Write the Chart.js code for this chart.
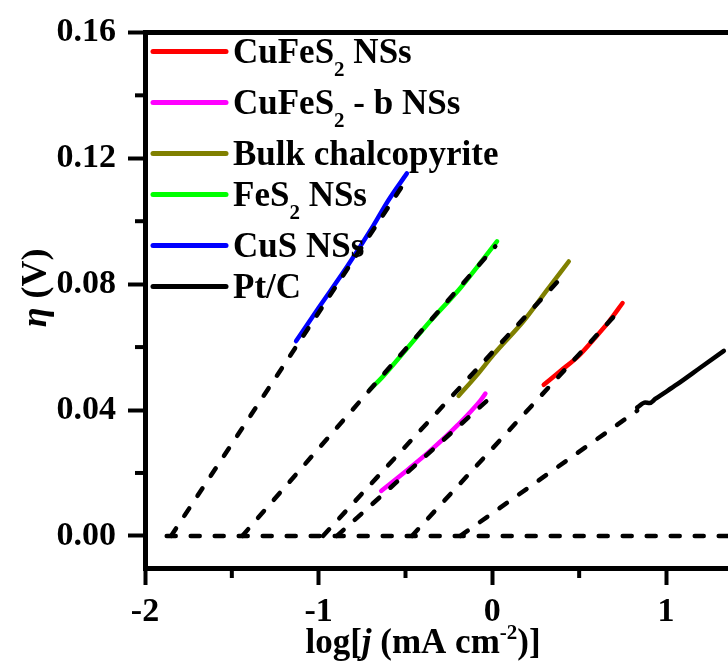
<!DOCTYPE html>
<html>
<head>
<meta charset="utf-8">
<script src="https://cdn.jsdelivr.net/npm/chart.js@4"></script>
<style>
  html, body { margin: 0; padding: 0; background: #fff; }
  #wrap { width: 728px; height: 668px; }
</style>
</head>
<body>
<div id="wrap"><canvas id="tafel" width="728" height="668"></canvas></div>
<script>
// Tafel plots, eta vs log j. Label "_2" means subscript 2.
const seriesNames = ['CuFeS_2 NSs', 'CuFeS_2 - b NSs', 'Bulk chalcopyrite', 'FeS_2 NSs', 'CuS NSs', 'Pt/C'];
const seriesColors = ['#ff0000', '#ff00ff', '#808000', '#00ff00', '#0000ff', '#000000'];

// measured curves
const cufes2X  = [0.296, 0.392, 0.500, 0.584, 0.670, 0.750];
const cufes2Y  = [0.0480, 0.0524, 0.0574, 0.0625, 0.0680, 0.0740];
const cufes2bX = [-0.640, -0.500, -0.357, -0.200, -0.069, -0.040];
const cufes2bY = [0.0143, 0.0205, 0.0271, 0.0352, 0.0430, 0.0452];
const bulkX    = [-0.194, -0.090, 0.008, 0.180, 0.320, 0.440];
const bulkY    = [0.0445, 0.0510, 0.0577, 0.0683, 0.0785, 0.0872];
const fes2X    = [-0.703, -0.636, -0.500, -0.357, -0.184, 0.027];
const fes2Y    = [0.0466, 0.0503, 0.0590, 0.0683, 0.0788, 0.0936];
const cusX     = [-1.130, -1.000, -0.837, -0.686, -0.600, -0.492];
const cusY     = [0.0619, 0.0725, 0.0855, 0.0985, 0.1065, 0.1152];
const ptcX     = [0.834, 0.880, 0.905, 0.940, 1.065, 1.199, 1.333];
const ptcY     = [0.0408, 0.0424, 0.0422, 0.0436, 0.0482, 0.0535, 0.0588];

// linear Tafel fits, from the eta = 0 intercept to the end point
const fitStartX = [-0.463, -0.895, -0.975, -1.440, -1.850, -0.184];
const fitEndX   = [0.738, -0.030, 0.421, 0.017, -0.485, 0.834];
const fitEndY   = [0.0720, 0.0430, 0.0835, 0.0920, 0.1140, 0.0398];

// eta = 0 reference line
const zeroLineX = [-1.875, 1.40];

const xTicks = [-2, -1, 0, 1];
const xMinorTicks = [-1.5, -0.5, 0.5];
const yTicks = [0, 0.04, 0.08, 0.12, 0.16];
const yMinorTicks = [0.02, 0.06, 0.10, 0.14];

const curveXs = [cufes2X, cufes2bX, bulkX, fes2X, cusX, ptcX];
const curveYs = [cufes2Y, cufes2bY, bulkY, fes2Y, cusY, ptcY];

const FONT = "'Liberation Serif', 'Times New Roman', serif";

const datasets = [];
seriesNames.forEach((name, i) => {
  datasets.push({
    label: name,
    data: curveXs[i].map((x, k) => ({ x: x, y: curveYs[i][k] })),
    borderColor: seriesColors[i],
    borderWidth: 4.5,
    borderCapStyle: 'round',
    borderJoinStyle: 'round',
    cubicInterpolationMode: 'monotone',
    pointRadius: 0,
    order: 1
  });
});
seriesNames.forEach((name, i) => {
  datasets.push({
    label: name + ' fit',
    data: [{ x: fitStartX[i], y: 0 }, { x: fitEndX[i], y: fitEndY[i] }],
    borderColor: '#000',
    borderWidth: 4.5,
    borderDash: [9, 15],
    borderCapStyle: 'round',
    pointRadius: 0,
    order: 0
  });
});
datasets.push({
  label: 'zero',
  data: zeroLineX.map(x => ({ x: x, y: 0 })),
  borderColor: '#000',
  borderWidth: 4.5,
  borderDash: [9, 15],
  borderCapStyle: 'round',
  pointRadius: 0,
  order: 2
});

// split "CuFeS_2 NSs" into normal / subscript parts
function parseLabel(s) {
  const parts = [];
  s.split(/(_\d)/).forEach(p => {
    if (!p) return;
    if (p[0] === '_') parts.push({ text: p.slice(1), kind: 'sub' });
    else parts.push({ text: p, kind: 'normal' });
  });
  return parts;
}

function fontFor(kind, size) {
  if (kind === 'sub' || kind === 'sup') return 'bold ' + Math.round(size * 0.6) + 'px ' + FONT;
  if (kind === 'italic') return 'italic bold ' + size + 'px ' + FONT;
  return 'bold ' + size + 'px ' + FONT;
}

function richWidth(ctx, parts, size) {
  let w = 0;
  parts.forEach(p => { ctx.font = fontFor(p.kind, size); w += ctx.measureText(p.text).width; });
  return w;
}

function drawRich(ctx, parts, x, y, size) {
  parts.forEach(p => {
    ctx.font = fontFor(p.kind, size);
    let dy = 0;
    if (p.kind === 'sub') dy = 13;
    if (p.kind === 'sup') dy = -14;
    ctx.fillText(p.text, x, y + dy);
    x += ctx.measureText(p.text).width;
  });
}

const decorPlugin = {
  id: 'decor',
  afterDraw(chart) {
    const { ctx, chartArea, scales } = chart;
    const xs = scales.x, ys = scales.y;
    ctx.save();
    ctx.strokeStyle = '#000';
    ctx.fillStyle = '#000';
    ctx.lineWidth = 4;

    // minor ticks
    xMinorTicks.forEach(v => {
      const px = xs.getPixelForValue(v);
      ctx.beginPath();
      ctx.moveTo(px, chartArea.bottom);
      ctx.lineTo(px, chartArea.bottom + 10);
      ctx.stroke();
    });
    yMinorTicks.forEach(v => {
      const py = ys.getPixelForValue(v);
      ctx.beginPath();
      ctx.moveTo(chartArea.left - 10, py);
      ctx.lineTo(chartArea.left, py);
      ctx.stroke();
    });

    // legend
    ctx.textAlign = 'left';
    ctx.textBaseline = 'alphabetic';
    let rowY = chartArea.top + 19;
    seriesNames.forEach((name, i) => {
      const parts = parseLabel(name);
      ctx.strokeStyle = seriesColors[i];
      ctx.lineWidth = 5;
      ctx.lineCap = 'round';
      ctx.beginPath();
      ctx.moveTo(chartArea.left + 8, rowY);
      ctx.lineTo(chartArea.left + 81, rowY);
      ctx.stroke();
      drawRich(ctx, parts, chartArea.left + 88, rowY + 12, 35);
      rowY += parts.some(p => p.kind === 'sub') ? 51 : 41;
    });

    // x axis title
    const xTitle = [
      { text: 'log[', kind: 'normal' },
      { text: 'j', kind: 'italic' },
      { text: ' (mA cm', kind: 'normal' },
      { text: '-2', kind: 'sup' },
      { text: ')]', kind: 'normal' }
    ];
    const xw = richWidth(ctx, xTitle, 35);
    drawRich(ctx, xTitle, 423 - xw / 2, 653, 35);

    // y axis title
    const yTitle = [
      { text: '\u03b7', kind: 'italic' },
      { text: ' (V)', kind: 'normal' }
    ];
    ctx.translate(46, 288);
    ctx.rotate(-Math.PI / 2);
    const yw = richWidth(ctx, yTitle, 36);
    drawRich(ctx, yTitle, -yw / 2, 0, 36);
    ctx.restore();
  }
};

new Chart(document.getElementById('tafel'), {
  type: 'line',
  data: { datasets: datasets },
  options: {
    responsive: false,
    animation: false,
    devicePixelRatio: 1,
    layout: { padding: { left: 0, right: 0, top: 0, bottom: 0 } },
    plugins: {
      legend: { display: false },
      tooltip: { enabled: false }
    },
    scales: {
      x: {
        type: 'linear',
        position: 'bottom',
        min: -2,
        max: 1.357,
        afterBuildTicks: s => { s.ticks = xTicks.map(v => ({ value: v })); },
        afterFit: s => { s.height = 100; },
        ticks: {
          color: '#000',
          padding: 7,
          maxRotation: 0,
          font: { family: FONT, size: 34, weight: 'bold' },
          callback: v => String(v)
        },
        grid: { drawOnChartArea: false, drawTicks: true, tickLength: 17, tickWidth: 4, tickColor: '#000' },
        border: { display: true, color: '#000', width: 5 }
      },
      x2: {
        type: 'linear',
        position: 'top',
        min: -2,
        max: 1.357,
        afterFit: s => { s.height = 29; },
        ticks: { display: false },
        grid: { drawOnChartArea: false, drawTicks: false },
        border: { display: true, color: '#000', width: 5 }
      },
      y: {
        type: 'linear',
        min: -0.0102,
        max: 0.16,
        afterBuildTicks: s => { s.ticks = yTicks.map(v => ({ value: v })); },
        afterFit: s => { s.width = 145; },
        ticks: {
          color: '#000',
          padding: 12,
          font: { family: FONT, size: 34, weight: 'bold' },
          callback: v => Number(v).toFixed(2)
        },
        grid: { drawOnChartArea: false, drawTicks: true, tickLength: 17, tickWidth: 4, tickColor: '#000' },
        border: { display: true, color: '#000', width: 5 }
      }
    }
  },
  plugins: [decorPlugin]
});
</script>
</body>
</html>
